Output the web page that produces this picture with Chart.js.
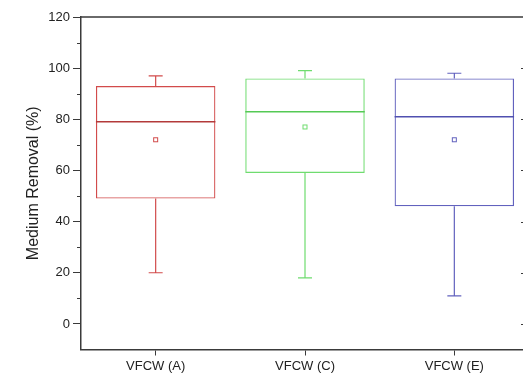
<!DOCTYPE html>
<html>
<head>
<meta charset="utf-8">
<script src="https://cdn.jsdelivr.net/npm/chart.js@4/dist/chart.umd.min.js"></script>
<style>
  html, body { margin: 0; padding: 0; background: #fff; overflow: hidden; }
  #wrap { width: 545px; height: 373px; }
</style>
</head>
<body>
<div id="wrap"><canvas id="boxChart" width="545" height="373"></canvas></div>
<script>
// Datos
const categorias = ['VFCW (A)', 'VFCW (C)', 'VFCW (E)'];
const q1 = [49, 59, 46];
const q3 = [93, 96, 96];
const medianas = [79, 83, 81];
const medias = [72, 77, 72];
const minimos = [20, 18, 11];
const maximos = [97, 99, 98];
const coloresCaja = ['#d24b4b', '#6fdc6f', '#6262be'];
const coloresMediana = ['#b33a3a', '#55c955', '#5050b0'];

const ejeColor = '#3a3a3a';

// Plugin: bigotes, medianas, medias, marco y ticks menores
const boxPlugin = {
    id: 'boxExtras',
    afterDatasetsDraw(chart) {
        const ctx = chart.ctx;
        const x = chart.scales.x;
        const y = chart.scales.y;
        const meta = chart.getDatasetMeta(0);
        ctx.save();
        categorias.forEach((c, i) => {
            const bar = meta.data[i];
            const cx = x.getPixelForValue(i);
            const half = bar.width / 2;
            const yMin = y.getPixelForValue(minimos[i]);
            const yMax = y.getPixelForValue(maximos[i]);
            const yQ1 = y.getPixelForValue(q1[i]);
            const yQ3 = y.getPixelForValue(q3[i]);
            const yMed = y.getPixelForValue(medianas[i]);
            const yMean = y.getPixelForValue(medias[i]);

            ctx.strokeStyle = coloresCaja[i];
            ctx.lineWidth = 1.2;
            ctx.beginPath();
            // bigote superior
            ctx.moveTo(cx, yQ3); ctx.lineTo(cx, yMax);
            ctx.moveTo(cx - 7, yMax); ctx.lineTo(cx + 7, yMax);
            // bigote inferior
            ctx.moveTo(cx, yQ1); ctx.lineTo(cx, yMin);
            ctx.moveTo(cx - 7, yMin); ctx.lineTo(cx + 7, yMin);
            ctx.stroke();

            // mediana
            ctx.strokeStyle = coloresMediana[i];
            ctx.lineWidth = 1.5;
            ctx.beginPath();
            ctx.moveTo(cx - half, yMed); ctx.lineTo(cx + half, yMed);
            ctx.stroke();

            // media
            ctx.strokeStyle = coloresCaja[i];
            ctx.lineWidth = 1;
            ctx.strokeRect(cx - 2, yMean - 2, 4, 4);
        });

        const area = chart.chartArea;
        ctx.strokeStyle = ejeColor;
        ctx.lineWidth = 1.5;
        ctx.beginPath();
        ctx.moveTo(area.left, area.top); ctx.lineTo(area.right, area.top);
        ctx.lineTo(area.right, area.bottom);
        ctx.stroke();

        // ticks menores eje izquierdo y ticks eje derecho
        ctx.lineWidth = 1;
        ctx.beginPath();
        for (let v = 10; v < 120; v += 20) {
            const py = Math.round(y.getPixelForValue(v)) + 0.5;
            ctx.moveTo(area.left - 4, py); ctx.lineTo(area.left, py);
        }
        for (let v = 0; v < 120; v += 20) {
            const py = Math.round(y.getPixelForValue(v)) + 0.5;
            ctx.moveTo(area.right - 8, py); ctx.lineTo(area.right, py);
        }
        ctx.stroke();
        ctx.restore();
    }
};

const chart = new Chart(document.getElementById('boxChart').getContext('2d'), {
    type: 'bar',
    data: {
        labels: categorias,
        datasets: [{
            data: categorias.map((c, i) => [q1[i], q3[i]]),
            backgroundColor: 'rgba(0,0,0,0)',
            borderColor: coloresCaja,
            borderWidth: 1.2,
            borderSkipped: false,
            barPercentage: 0.8,
            categoryPercentage: 1
        }]
    },
    options: {
        responsive: false,
        animation: false,
        layout: { padding: { top: 17, right: 16, left: 0, bottom: 0 } },
        plugins: {
            legend: { display: false },
            tooltip: { enabled: false }
        },
        scales: {
            x: {
                offset: true,
                grid: {
                    drawOnChartArea: false,
                    offset: false,
                    tickLength: 6,
                    tickColor: ejeColor
                },
                border: { color: ejeColor, width: 1.5 },
                ticks: {
                    color: '#222',
                    padding: 3,
                    font: { family: 'Liberation Sans, Arial, sans-serif', size: 13 }
                },
                afterFit(scale) { scale.height = 23.5; }
            },
            y: {
                min: -10,
                max: 120,
                grid: {
                    drawOnChartArea: false,
                    tickLength: 8,
                    tickColor: (c) => (c.tick && c.tick.value >= 0 && c.tick.value % 20 === 0) ? ejeColor : 'rgba(0,0,0,0)'
                },
                border: { color: ejeColor, width: 1.5 },
                ticks: {
                    stepSize: 10,
                    color: '#222',
                    padding: 3,
                    font: { family: 'Liberation Sans, Arial, sans-serif', size: 13 },
                    callback: (v) => (v >= 0 && v % 20 === 0) ? v : ''
                },
                title: {
                    display: true,
                    text: 'Medium Removal (%)',
                    color: '#222',
                    padding: { top: 24, bottom: 0 },
                    font: { family: 'Liberation Sans, Arial, sans-serif', size: 16 }
                },
                afterFit(scale) { scale.width = 81; }
            }
        }
    },
    plugins: [boxPlugin]
});
</script>
</body>
</html>
